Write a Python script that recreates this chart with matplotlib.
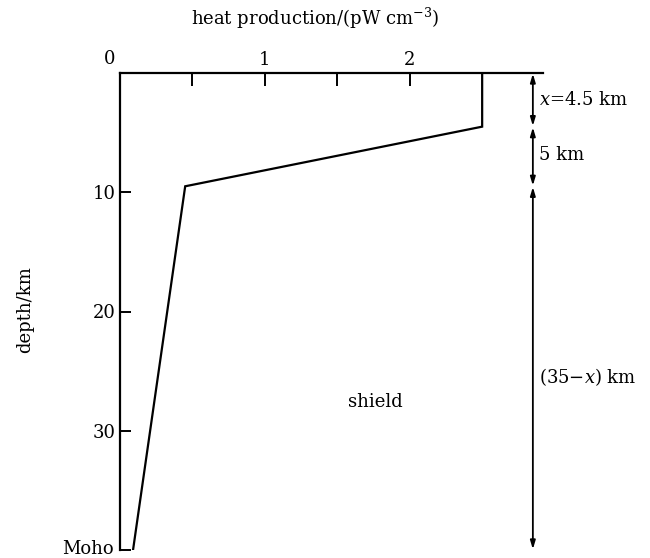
import matplotlib
matplotlib.use("Agg")
import matplotlib.pyplot as plt

# heat production profile (pW cm^-3) vs depth (km)
heat = [2.5, 2.5, 0.45, 0.09]
depth = [0, 4.5, 9.5, 40]

# layer boundaries for the right-hand arrows
layer_tops = [0, 4.5, 9.5]
layer_bottoms = [4.5, 9.5, 40]
layer_labels = ["$x$=4.5 km", "5 km", "(35$-x$) km"]
label_depths = [2.3, 6.9, 25.5]

xticks = [0.5, 1, 1.5, 2]
xticklabels = ["", "1", "", "2"]
yticks = [10, 20, 30, 40]
yticklabels = ["10", "20", "30", ""]

plt.rcParams["font.family"] = ["DejaVu Serif"]
plt.rcParams["mathtext.fontset"] = "dejavuserif"
fs = 13

fig = plt.figure(figsize=(6.5, 5.58), dpi=100)
ax = fig.add_axes([120 / 650, 8 / 558, 423 / 650, 477 / 558])
ax.set_xlim(0, 2.92)
ax.set_ylim(40, 0)

ax.plot(heat, depth, color="black", lw=1.6, solid_joinstyle="miter")

for s in ["right", "bottom"]:
    ax.spines[s].set_visible(False)
for s in ["top", "left"]:
    ax.spines[s].set_linewidth(1.6)

ax.xaxis.tick_top()
ax.set_xticks(xticks)
ax.set_xticklabels(xticklabels, fontsize=fs)
ax.tick_params(axis="x", direction="in", length=9, width=1.4, pad=3)
ax.set_yticks(yticks)
ax.set_yticklabels(yticklabels, fontsize=fs)
ax.tick_params(axis="y", direction="in", length=8, width=1.4, pad=3)

ax.text(-0.07, -0.4, "0", fontsize=fs, ha="center", va="bottom")
ax.text(-0.04, 39.9, "Moho", fontsize=fs, ha="right", va="center")

fig.text(315 / 650, 1 - 18 / 558, "heat production/(pW cm$^{-3}$)",
         fontsize=fs, ha="center", va="center")
fig.text(25 / 650, 1 - 310 / 558, "depth/km", fontsize=fs,
         rotation=90, ha="center", va="center")

x_arrow = 2.85
for top, bot, lab, yl in zip(layer_tops, layer_bottoms, layer_labels, label_depths):
    ax.annotate("", xy=(x_arrow, bot), xytext=(x_arrow, top),
                arrowprops=dict(arrowstyle="<|-|>,head_length=0.5,head_width=0.15",
                                color="black", lw=1.3, shrinkA=0.5, shrinkB=0.5),
                annotation_clip=False)
    ax.text(x_arrow + 0.04, yl, lab, fontsize=fs,
            ha="left", va="center", clip_on=False)

ax.text(1.76, 27.6, "shield", fontsize=fs, ha="center", va="center")

fig.savefig("out.png", dpi=100)
